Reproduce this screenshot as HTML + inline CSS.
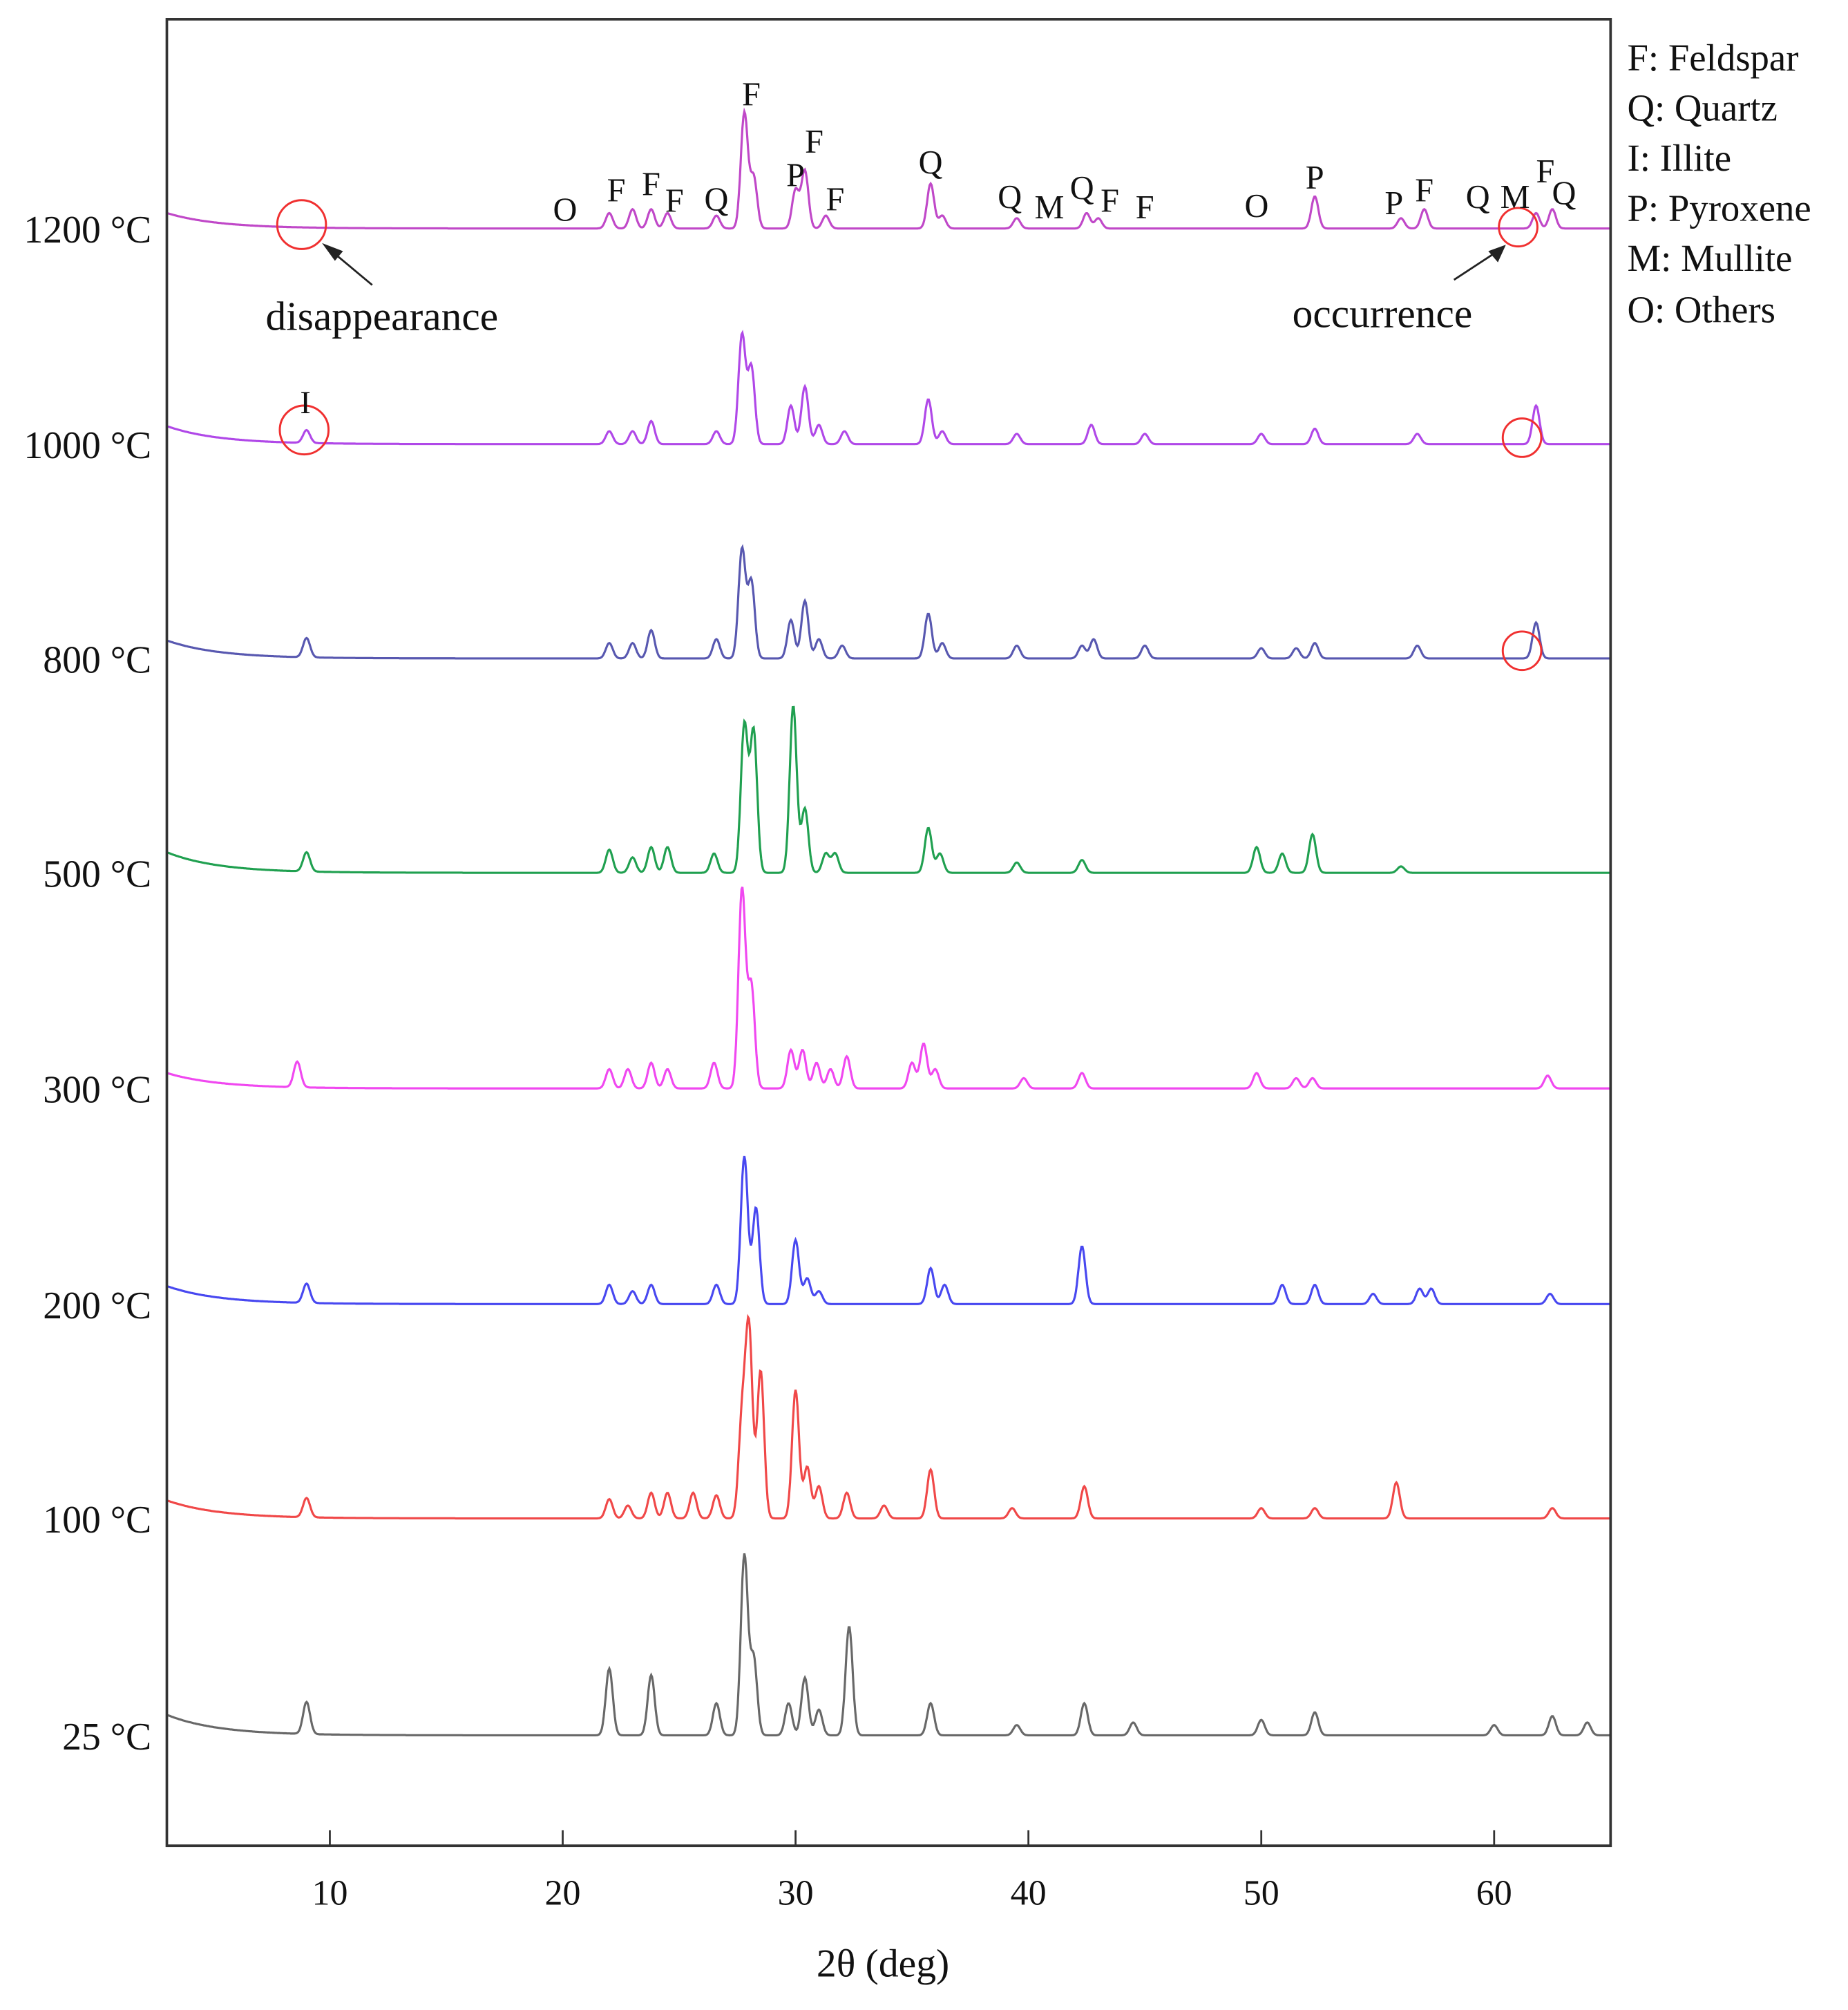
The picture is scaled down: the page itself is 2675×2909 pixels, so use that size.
<!DOCTYPE html>
<html><head><meta charset="utf-8"><style>
html,body{margin:0;padding:0;background:#fff;}
svg{display:block;}
text{font-family:"Liberation Serif",serif;fill:#111;}
</style></head><body>
<svg id="chart" width="2675" height="2909" viewBox="0 0 1440 1566" xmlns="http://www.w3.org/2000/svg">
<rect x="0" y="0" width="1440" height="1566" fill="#fff"/>
<g id="series"></g>
<rect x="130" y="15" width="1125" height="1423" fill="none" stroke="#333" stroke-width="2"/>
<g id="axis"></g>
<text x="688" y="1540" font-size="31" text-anchor="middle">2θ (deg)</text>
<g font-size="29.5">
<text x="1268" y="55">F: Feldspar</text>
<text x="1268" y="94">Q: Quartz</text>
<text x="1268" y="133">I: Illite</text>
<text x="1268" y="172">P: Pyroxene</text>
<text x="1268" y="211">M: Mullite</text>
<text x="1268" y="251">O: Others</text>
</g>
<g fill="none" stroke="#f03030" stroke-width="1.6">
<circle cx="235" cy="175" r="19"/>
<circle cx="237" cy="335" r="19"/>
<circle cx="1183" cy="177" r="15"/>
<circle cx="1186" cy="341" r="15"/>
<circle cx="1186" cy="507" r="15"/>
</g>
<g stroke="#222" stroke-width="1.5" fill="#222">
<line x1="290" y1="222" x2="260" y2="197"/><polygon points="253,191 266,196 261,202"/>
<line x1="1133" y1="218" x2="1165" y2="197"/><polygon points="1172,192 1167,203 1161,196"/>
</g>
<text x="207" y="257" font-size="32">disappearance</text>
<text x="1007" y="255" font-size="32">occurrence</text>
<g id="phaselabels" font-size="26" text-anchor="middle"></g>
<text x="238" y="322" font-size="25" text-anchor="middle">I</text>
</svg>
<script>
const xMin = 3, xMax = 65;
const tickValues = [10, 20, 30, 40, 50, 60];
const tempLabels = ["1200 °C","1000 °C","800 °C","500 °C","300 °C","200 °C","100 °C","25 °C"];
const baseY = [178, 346, 513, 680, 848, 1016, 1183, 1352];
const colors = ["#c048c8","#b048e8","#5858b0","#20a050","#f048f0","#4848f0","#f04848","#686868"];
const pk1200 = [[22,12],[23,15],[23.8,15],[24.5,12],[26.6,10],[27.8,90],[28.2,40],[30,30],[30.4,45],[31.3,10],[35.8,35],[36.3,10],[39.5,8],[42.5,12],[43,8],[52.3,25],[56,8],[57,15],[61.8,12],[62.5,15]];
const pk1000 = [[9,10],[22,10],[23,10],[23.8,18],[26.6,10],[27.7,85],[28.1,60],[29.8,30],[30.4,45],[31,15],[32.1,10],[35.7,35],[36.3,10],[39.5,8],[42.7,15],[45,8],[50,8],[52.3,12],[56.7,8],[61.8,30]];
const pk800 = [[9,15],[22,12],[23,12],[23.8,22],[26.6,15],[27.7,85],[28.1,60],[29.8,30],[30.4,45],[31,15],[32,10],[35.7,35],[36.3,12],[39.5,10],[42.3,10],[42.8,15],[45,10],[50,8],[51.5,8],[52.3,12],[56.7,10],[61.8,28]];
const pk500 = [[9,15],[22,18],[23,12],[23.8,20],[24.5,20],[26.5,15],[27.8,115],[28.2,110],[29.9,130],[30.4,50],[31.3,15],[31.7,15],[35.7,35],[36.2,15],[39.5,8],[42.3,10],[49.8,20],[50.9,15],[52.2,30],[56,5]];
const pk300 = [[8.6,20],[22,15],[22.8,15],[23.8,20],[24.5,15],[26.5,20],[27.7,155],[28.1,80],[29.8,30],[30.3,30],[30.9,20],[31.5,15],[32.2,25],[35,20],[35.5,35],[36,15],[39.8,8],[42.3,12],[49.8,12],[51.5,8],[52.2,8],[62.3,10]];
const pk200 = [[9,15],[22,15],[23,10],[23.8,15],[26.6,15],[27.8,115],[28.3,75],[30,50],[30.5,20],[31,10],[35.8,28],[36.4,15],[42.3,45],[50.9,15],[52.3,15],[54.8,8],[56.8,12],[57.3,12],[62.4,8]];
const pk100 = [[9,15],[22,15],[22.8,10],[23.8,20],[24.5,20],[25.6,20],[26.6,18],[27.7,75],[28,145],[28.5,115],[30,100],[30.5,40],[31,25],[32.2,20],[33.8,10],[35.8,38],[39.3,8],[42.4,25],[50,8],[52.3,8],[55.8,28],[62.5,8]];
const pk25 = [[9,25],[22,52],[23.8,47],[26.6,25],[27.8,140],[28.2,60],[29.7,25],[30.4,45],[31,20],[32.3,85],[35.8,25],[39.5,8],[42.4,25],[44.5,10],[50,12],[52.3,18],[60,8],[62.5,15],[64,10]];
const leftRise = [12, 14, 14, 16, 12, 14, 14, 16];
const peakSets = [pk1200,pk1000,pk800,pk500,pk300,pk200,pk100,pk25];
const phaseLabels = [["O",20.1,172],["F",22.3,157],["F",23.8,152],["F",24.8,165],["Q",26.6,164],["F",28.1,82],["P",30,145],["F",30.8,119],["F",31.7,164],["Q",35.8,135],["Q",39.2,162],["M",40.9,170],["Q",42.3,155],["F",43.5,165],["F",45,170],["O",49.8,169],["P",52.3,147],["P",55.7,167],["F",57,157],["Q",59.3,162],["M",60.9,162],["F",62.2,142],["Q",63,159]];

const NS = "http://www.w3.org/2000/svg";
const xs = v => 130 + (v - xMin) / (xMax - xMin) * 1125;
const ser = document.getElementById('series');
peakSets.forEach((pk, i) => {
  let d = "";
  for (let x = xMin; x <= xMax; x += 0.04) {
    let h = leftRise[i] * Math.exp(-(x - xMin) / 2.2);
    pk.forEach(p => { h += p[1] * Math.exp(-Math.pow((x - p[0]) / 0.15, 2) / 2); });
    const y = baseY[i] - h;
    d += (d ? "L" : "M") + xs(x).toFixed(1) + "," + y.toFixed(1);
  }
  const path = document.createElementNS(NS, 'path');
  
  
  path.setAttribute('d', d);
  path.setAttribute('fill', 'none');
  path.setAttribute('stroke', colors[i]);
  path.setAttribute('stroke-width', '1.7');
  ser.appendChild(path);
  const t = document.createElementNS(NS, 'text');
  
  
  t.setAttribute('x', 118); t.setAttribute('y', baseY[i] + 11);
  t.setAttribute('text-anchor', 'end'); t.setAttribute('font-size', '30');
  t.textContent = tempLabels[i];
  ser.appendChild(t);
});
const ax = document.getElementById('axis');
tickValues.forEach(v => {
  const l = document.createElementNS(NS, 'line');
  
  
  l.setAttribute('x1', xs(v)); l.setAttribute('x2', xs(v));
  l.setAttribute('y1', 1438); l.setAttribute('y2', 1426);
  l.setAttribute('stroke', '#333'); l.setAttribute('stroke-width', '1.5');
  ax.appendChild(l);
  const t = document.createElementNS(NS, 'text');
  
  
  t.setAttribute('x', xs(v)); t.setAttribute('y', 1484);
  t.setAttribute('text-anchor', 'middle'); t.setAttribute('font-size', '28');
  t.textContent = v;
  ax.appendChild(t);
});
const pl = document.getElementById('phaselabels');
phaseLabels.forEach(p => {
  const t = document.createElementNS(NS, 'text');
  
  
  t.setAttribute('x', xs(p[1])); t.setAttribute('y', p[2]);
  t.textContent = p[0];
  pl.appendChild(t);
});
</script>
</body></html>
